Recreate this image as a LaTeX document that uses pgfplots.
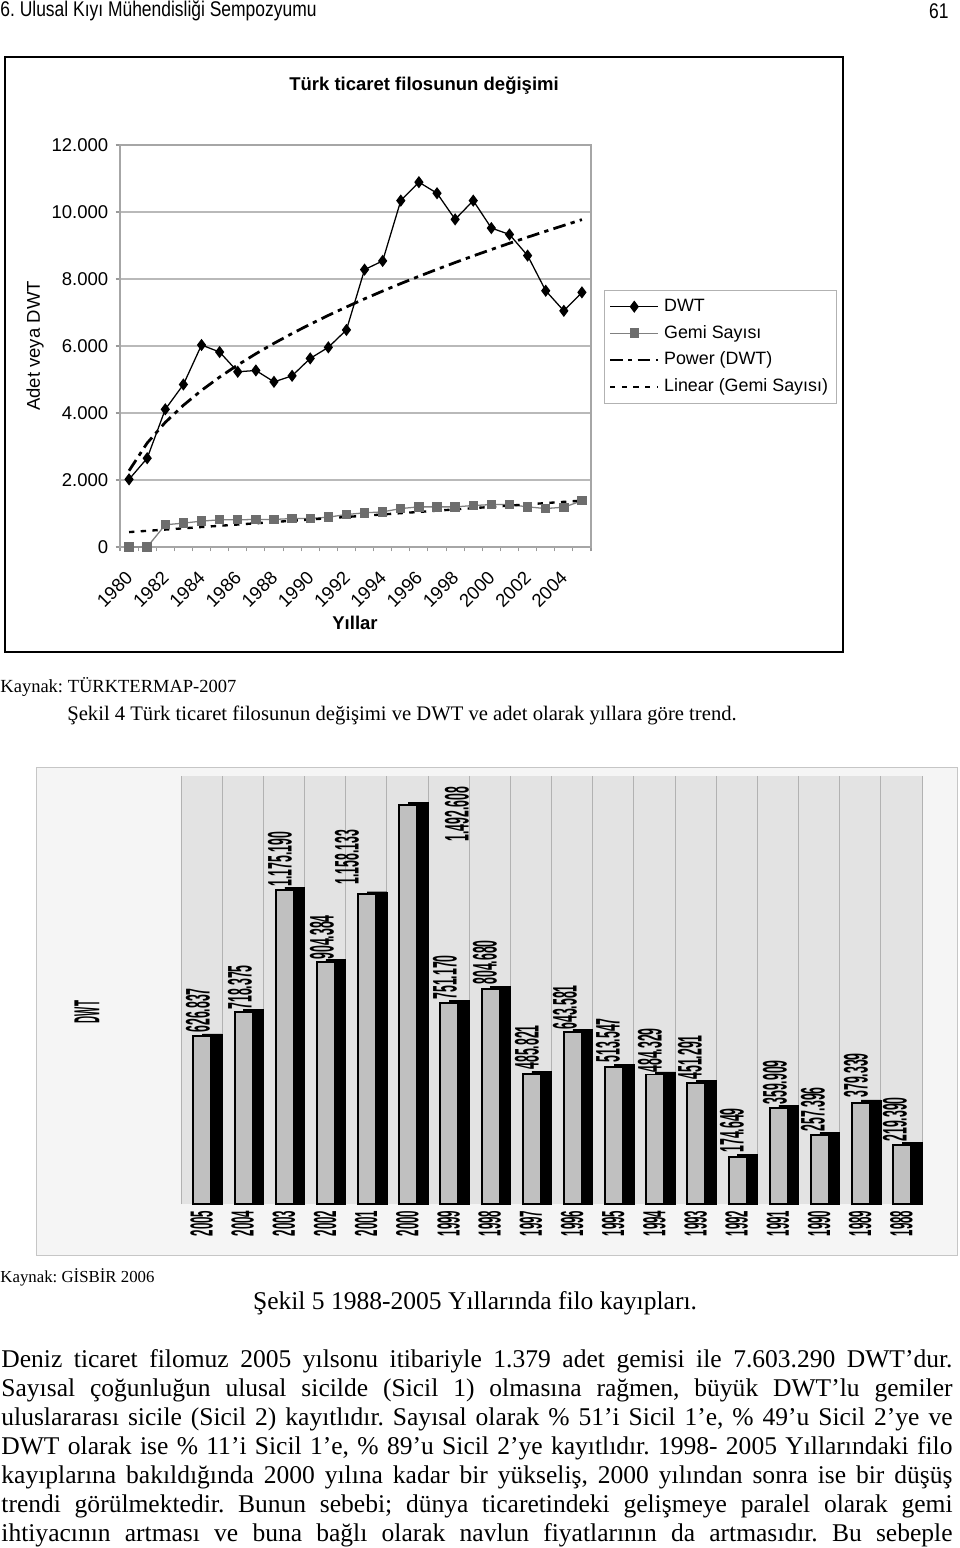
\documentclass[border=0pt]{standalone}
\usepackage{fontspec}
\setmainfont{Liberation Serif}
\newfontfamily\arial{Liberation Sans}
\newfontfamily\narrowsans[FakeStretch=0.82]{Liberation Sans}
\newfontfamily\impact[FakeStretch=0.36]{Liberation Sans}
\usepackage{graphicx}
\usepackage{pgfplots}
\pgfplotsset{compat=1.18}
\definecolor{barsilver}{HTML}{C0C0C0}
\definecolor{texbg}{HTML}{E3E3E3}
\definecolor{framebg}{HTML}{F5F5F5}
\definecolor{gemigray}{HTML}{808080}
\begin{document}
\frenchspacing
\begin{tikzpicture}
\path[use as bounding box] (0pt,0pt) rectangle (451.2pt,-727.56pt);
\begin{scope}[x=0.47pt,y=0.47pt]
\node[anchor=west,inner sep=0pt] at (0,-11) {\narrowsans\fontsize{10}{12}\selectfont 6. Ulusal Kıyı Mühendisliği Sempozyumu};
\node[anchor=east,inner sep=0pt] at (949,-11) {\narrowsans\fontsize{10}{12}\selectfont 61};
\draw[line width=0.9pt] (5,-57) rectangle (843,-652);
\node[inner sep=0pt] at (424,-86) {\arial\bfseries\fontsize{8.7}{10}\selectfont Türk ticaret filosunun değişimi};
\node[inner sep=0pt,rotate=90] at (35,-346) {\arial\fontsize{8.7}{10}\selectfont Adet veya DWT};
\node[inner sep=0pt] at (355,-623) {\arial\bfseries\fontsize{8.7}{10}\selectfont Yıllar};
\node[anchor=base west,inner sep=0pt] at (0,-692) {\fontsize{8.7}{10}\selectfont Kaynak: TÜRKTERMAP-2007};
\node[anchor=base,inner sep=0pt] at (402,-720) {\fontsize{9.7}{12}\selectfont Şekil 4 Türk ticaret filosunun değişimi ve DWT ve adet olarak yıllara göre trend.};
\draw[gray!45,fill=framebg] (36,-767) rectangle (957,-1255);
\node[rotate=90,inner sep=0pt] at (87,-1012) {\impact\bfseries\fontsize{17}{17}\selectfont\scalebox{0.75}[1]{DWT}};
\node[anchor=base west,inner sep=0pt] at (0,-1282) {\fontsize{7.9}{9}\selectfont Kaynak: GİSBİR 2006};
\node[anchor=base,inner sep=0pt] at (475,-1309) {\fontsize{12}{14}\selectfont Şekil 5 1988-2005 Yıllarında filo kayıpları.};
\node[anchor=north west,inner sep=0pt,text width=447pt,align=justify] at (1,-1349.5) {\fontsize{12}{13.63}\selectfont\frenchspacing\tolerance=10000\hbadness=10000\hyphenpenalty=10000\exhyphenpenalty=10000\parfillskip=0pt\parindent=0pt
Deniz ticaret filomuz 2005 yılsonu itibariyle 1.379 adet gemisi ile 7.603.290 DWT’dur.\linebreak
Sayısal çoğunluğun ulusal sicilde (Sicil 1) olmasına rağmen, büyük DWT’lu gemiler\linebreak
uluslararası sicile (Sicil 2) kayıtlıdır. Sayısal olarak \% 51’i Sicil 1’e, \% 49’u Sicil 2’ye ve\linebreak
DWT olarak ise \% 11’i Sicil 1’e, \% 89’u Sicil 2’ye kayıtlıdır. 1998- 2005 Yıllarındaki filo\linebreak
kayıplarına bakıldığında 2000 yılına kadar bir yükseliş, 2000 yılından sonra ise bir düşüş\linebreak
trendi görülmektedir. Bunun sebebi; dünya ticaretindeki gelişmeye paralel olarak gemi\linebreak
ihtiyacının artması ve buna bağlı olarak navlun fiyatlarının da artmasıdır. Bu sebeple\par};
\end{scope}

\begin{axis}[
 at={(56.4pt,-257.09pt)}, anchor=south west,
 scale only axis, width=221.37pt, height=188.94pt,
 xmin=1979.5, xmax=2005.5, ymin=0, ymax=12000,
 ytick={0,2000,4000,6000,8000,10000,12000},
 scaled y ticks=false,
 ymajorgrids, grid style={gray!55,line width=0.5pt},
 xtick={1980,1982,...,2004},
 xticklabels={1980,1982,1984,1986,1988,1990,1992,1994,1996,1998,2000,2002,2004},
 minor xtick={1979.5,1980.5,...,2005.5},
 every major x tick/.append style={draw=none},
 xticklabel style={rotate=45,anchor=north east,inner xsep=4pt,inner ysep=1pt},
 xticklabel shift=5pt,
 tick pos=left, tick align=outside, major tick length=2pt, minor tick length=2pt,
 tick style={gray!80,line width=0.5pt},
 axis line style={gray!70,line width=0.6pt},
 tick label style={font=\arial\fontsize{8.7}{10}\selectfont},
 /pgf/number format/assume math mode=true,
 /pgf/number format/1000 sep={.},
 legend style={at={(1.0276,0.6393)}, anchor=north west, draw=gray!60, font=\arial\fontsize{8.4}{10}\selectfont, row sep=1pt, inner xsep=2pt, inner ysep=2pt},
 legend cell align=left,
 legend image code/.code={\draw[mark repeat=2,mark phase=2,#1] plot coordinates {(0cm,0cm) (0.4cm,0cm) (0.8cm,0cm)};},
]
\addplot[black, line width=0.6pt, mark=diamond*, mark size=2.4pt, mark options={solid}] coordinates {
(1980,2020) (1981,2650) (1982,4110) (1983,4850) (1984,6030) (1985,5820) (1986,5230) (1987,5270) (1988,4930) (1989,5110) (1990,5630) (1991,5960) (1992,6480) (1993,8280) (1994,8540) (1995,10340) (1996,10890) (1997,10560) (1998,9780) (1999,10340) (2000,9520) (2001,9330) (2002,8700) (2003,7650) (2004,7050) (2005,7600)};
\addlegendentry{DWT}
\addplot[gemigray, line width=0.6pt, mark=square*, mark size=1.9pt, mark options={solid, fill=gemigray!85!black, draw=gemigray!85!black}] coordinates {
(1980,0) (1981,0) (1982,663) (1983,713) (1984,772) (1985,812) (1986,812) (1987,822) (1988,822) (1989,851) (1990,851) (1991,891) (1992,970) (1993,1020) (1994,1049) (1995,1148) (1996,1198) (1997,1198) (1998,1198) (1999,1238) (2000,1267) (2001,1267) (2002,1198) (2003,1148) (2004,1188) (2005,1379)};
\addlegendentry{Gemi Sayısı}
\addplot[black, line width=1.3pt, dash pattern=on 6pt off 2.5pt on 2pt off 2.5pt] coordinates {
(1980,2277) (1981,3104) (1982,3721) (1983,4231) (1984,4675) (1985,5072) (1986,5434) (1987,5768) (1988,6080) (1989,6373) (1990,6651) (1991,6914) (1992,7166) (1993,7408) (1994,7640) (1995,7864) (1996,8080) (1997,8289) (1998,8492) (1999,8689) (2000,8880) (2001,9067) (2002,9249) (2003,9426) (2004,9600) (2005,9772)};
\addlegendentry{Power (DWT)}
\addplot[black, line width=1.1pt, dash pattern=on 2.5pt off 3pt] coordinates {
(1980,445) (1981,483) (1982,520) (1983,558) (1984,596) (1985,633) (1986,671) (1987,708) (1988,746) (1989,784) (1990,821) (1991,859) (1992,897) (1993,934) (1994,972) (1995,1010) (1996,1047) (1997,1085) (1998,1123) (1999,1160) (2000,1198) (2001,1235) (2002,1273) (2003,1311) (2004,1348) (2005,1386)};
\addlegendentry{Linear (Gemi Sayısı)}
\end{axis}

\begin{axis}[
 at={(85.07pt,-565.88pt)}, anchor=south west,
 scale only axis, width=348.27pt, height=201.16pt,
 xmin=-0.5, xmax=17.5, ymin=0, ymax=1601000,
 axis line style={draw=none},
 axis background/.style={fill=texbg},
 ytick=\empty,
 xtick={0,1,...,17},
 xticklabels={2005,2004,2003,2002,2001,2000,1999,1998,1997,1996,1995,1994,1993,1992,1991,1990,1989,1988},
 minor xtick={-0.5,0.5,...,17.5},
 xminorgrids, minor grid style={gray!60,line width=0.4pt},
 major tick length=0pt, minor tick length=0pt,
 xticklabel style={rotate=90,anchor=east,inner sep=3pt,font=\impact\bfseries\fontsize{15}{15}\selectfont},
 clip=false,
]
\addplot[ybar, bar width=0.478, bar shift=0.261, fill=black, draw=black, line width=0.2pt] table[row sep=\\] {
x y\\
0 636837\\ 1 728375\\ 2 1185190\\ 3 914384\\ 4 1168133\\ 5 1502608\\ 6 761170\\ 7 814680\\ 8 495821\\
9 653581\\ 10 523547\\ 11 494329\\ 12 461291\\ 13 184649\\ 14 369909\\ 15 267396\\ 16 389339\\ 17 229390\\
};
\addplot[ybar, bar width=0.437, bar shift=0.02, fill=barsilver, draw=black, line width=0.9pt] table[row sep=\\] {
x y\\
0 626837\\ 1 718375\\ 2 1175190\\ 3 904384\\ 4 1158133\\ 5 1492608\\ 6 751170\\ 7 804680\\ 8 485821\\
9 643581\\ 10 513547\\ 11 484329\\ 12 451291\\ 13 174649\\ 14 359909\\ 15 257396\\ 16 379339\\ 17 219390\\
};
\addplot[draw=none, nodes near coords, point meta=explicit symbolic,
 every node near coord/.append style={rotate=90, anchor=west, inner sep=0pt, black, font=\impact\bfseries\fontsize{16}{16}\selectfont}]
 table[row sep=\\, x=x, y=y, meta=lab] {
x y lab\\
-0.087 639700 626.837\\
0.933 725800 718.375\\
1.905 1185900 1.175.190\\
2.925 912800 904.384\\
3.532 1193400 1.158.133\\
6.204 1354200 1.492.608\\
5.912 763200 751.170\\
6.884 819300 804.680\\
7.904 501300 485.821\\
8.827 650900 643.581\\
9.872 527500 513.547\\
10.892 490100 484.329\\
11.863 463900 451.291\\
12.883 190800 174.649\\
13.928 370400 359.909\\
14.851 269400 257.396\\
15.895 396500 379.339\\
16.842 231900 219.390\\
};
\end{axis}
\end{tikzpicture}
\end{document}
